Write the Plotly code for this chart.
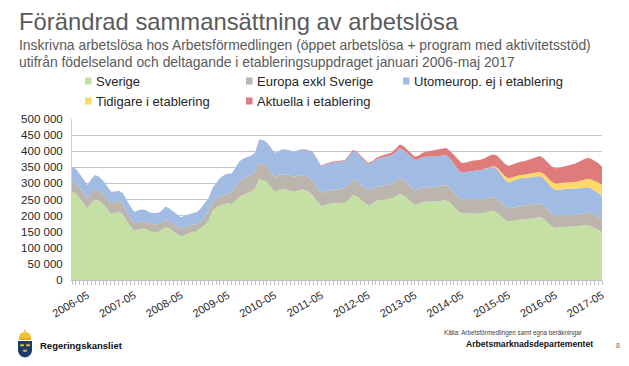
import pandas as pd
import plotly.graph_objects as go

# ---------------- data (thousands of persons, monthly 2006-01 .. 2017-05) ----------------
months = pd.date_range("2006-01-01", "2017-05-01", freq="MS")

sverige_k = [
    274, 268, 255, 240, 223, 240, 250, 245, 235, 222, 205, 208,   # 2006
    212, 205, 185, 168, 153, 157, 160, 158, 152, 150, 150, 156,   # 2007
    164, 160, 153, 143, 135, 140, 145, 150, 152, 160, 171, 184,   # 2008
    217, 225, 232, 236, 238, 236, 248, 259, 265, 271, 276, 285,   # 2009
    313, 310, 305, 290, 274, 278, 282, 281, 276, 274, 278, 281,   # 2010
    279, 272, 259, 245, 230, 233, 237, 238, 238, 239, 240, 250,   # 2011
    264, 260, 250, 240, 231, 236, 245, 248, 250, 251, 254, 260,   # 2012
    267, 263, 255, 243, 233, 237, 242, 243, 243, 243, 244, 247,   # 2013
    248, 240, 228, 214, 207, 206, 207, 206, 206, 207, 210, 213,   # 2014
    215, 210, 200, 188, 181, 184, 187, 188, 188, 190, 192, 194,   # 2015
    195, 190, 180, 168, 162, 162, 164, 165, 166, 166, 167, 168,   # 2016
    170, 168, 163, 156, 150,                                      # 2017
]
europa_k = [
    31, 31, 31, 31, 31, 30, 30, 31, 32, 32, 33, 34,
    34, 32, 29, 26, 23, 22, 21, 22, 23, 23, 23, 22,
    22, 22, 23, 24, 25, 24, 23, 22, 21, 20, 24, 28,
    27, 26, 27, 29, 31, 38, 44, 49, 50, 50, 50, 51,
    51, 49, 47, 47, 47, 46, 46, 46, 47, 47, 46, 45,
    44, 45, 47, 44, 40, 42, 41, 42, 43, 44, 45, 46,
    47, 47, 48, 48, 48, 46, 44, 44, 44, 44, 44, 46,
    49, 48, 47, 46, 46, 45, 45, 45, 45, 46, 47, 47,
    47, 46, 45, 44, 43, 44, 44, 44, 44, 43, 43, 43,
    42, 42, 42, 42, 42, 41, 40, 40, 41, 42, 42, 43,
    43, 42, 40, 39, 38, 37, 36, 35, 34, 35, 37, 38,
    39, 40, 40, 40, 39,
]
utomeurop_k = [
    47, 46, 44, 42, 41, 44, 46, 45, 41, 38, 36, 33,
    31, 33, 35, 36, 36, 38, 39, 37, 35, 35, 35, 37,
    42, 40, 38, 36, 35, 36, 36, 36, 38, 41, 41, 42,
    40, 52, 58, 60, 62, 57, 58, 61, 62, 62, 61, 60,
    73, 75, 76, 75, 74, 76, 78, 78, 78, 78, 79, 80,
    81, 84, 88, 86, 83, 84, 85, 85, 85, 85, 85, 87,
    89, 88, 86, 83, 81, 82, 85, 87, 88, 89, 90, 91,
    93, 93, 93, 94, 94, 94, 95, 95, 95, 94, 93, 93,
    93, 91, 89, 86, 83, 85, 88, 90, 91, 92, 93, 94,
    95, 93, 88, 83, 80, 83, 86, 88, 88, 87, 87, 86,
    85, 84, 82, 81, 80, 81, 82, 83, 83, 82, 81, 80,
    79, 78, 77, 75, 72,
]
tidigare_k = [
    0, 0, 0, 0, 0, 0, 0, 0, 0, 0, 0, 0,
    0, 0, 0, 0, 0, 0, 0, 0, 0, 0, 0, 0,
    0, 0, 0, 0, 0, 0, 0, 0, 0, 0, 0, 0,
    0, 0, 0, 0, 0, 0, 0, 0, 0, 0, 0, 0,
    0, 0, 0, 0, 0, 0, 0, 0, 0, 0, 0, 0,
    0, 0, 0, 0, 0, 0, 0, 0, 0, 0, 0, 0,
    0, 0, 0, 0, 0, 0, 0, 0, 0, 0, 0, 0,
    0, 0, 0, 0, 0, 0, 0, 0, 0, 0, 0, 0,
    0, 0, 0, 0, 0, 0, 0, 0, 0, 0, 0, 1,
    2, 5, 8, 11, 13, 12, 11, 10, 10, 10, 10, 11,
    13, 14, 16, 18, 20, 20, 20, 20, 20, 21, 22, 24,
    26, 27, 29, 32, 34,
]
aktuella_k = [
    0, 0, 0, 0, 0, 0, 0, 0, 0, 0, 0, 0,
    0, 0, 0, 0, 0, 0, 0, 0, 0, 0, 0, 0,
    0, 0, 0, 0, 0, 0, 0, 0, 0, 0, 0, 0,
    0, 0, 0, 0, 0, 0, 0, 0, 0, 0, 0, 0,
    0, 0, 0, 0, 0, 0, 0, 0, 0, 0, 0, 0.5,
    1, 1, 1.5, 2, 2, 2, 2.5, 3, 3, 3, 3, 3.5,
    4, 4, 4, 4, 4, 4, 4.5, 5, 6, 7, 8, 10,
    12, 12, 11, 10, 10, 11, 13, 16, 18, 19, 20, 21,
    22, 24, 27, 30, 30, 30, 30, 31, 31, 32, 33, 35,
    36, 37, 37, 38, 38, 39, 40, 41, 42, 44, 45, 47,
    49, 48, 47, 47, 47, 48, 50, 52, 54, 57, 60, 62,
    65, 64, 62, 60, 57,
]

series_names = ["Sverige", "Europa exkl Sverige", "Utomeurop. ej i etablering",
                "Tidigare i etablering", "Aktuella i etablering"]
series_values = [sverige_k, europa_k, utomeurop_k, tidigare_k, aktuella_k]
series_colors = ["#c5e0a5", "#bcb5ad", "#a2bbe2", "#ffd966", "#e07b7b"]

x_tick_labels = ["2006-05", "2007-05", "2008-05", "2009-05", "2010-05", "2011-05",
                 "2012-05", "2013-05", "2014-05", "2015-05", "2016-05", "2017-05"]
y_tick_values = [0, 50000, 100000, 150000, 200000, 250000, 300000, 350000, 400000, 450000, 500000]
y_tick_labels = ["0", "50 000", "100 000", "150 000", "200 000", "250 000", "300 000",
                 "350 000", "400 000", "450 000", "500 000"]

# ---------------- geometry ----------------
# The page body has an 8px default margin, so the figure is drawn 8px smaller
# and all positions are given in window pixels of the target picture.
OFF = 8
W, H = 629 - OFF, 366 - OFF
PLOT_L, PLOT_R, PLOT_T, PLOT_B = 72, 602, 119, 280      # target window pixels
L, R = PLOT_L - OFF, W - (PLOT_R - OFF)
T, B = PLOT_T - OFF, H - (PLOT_B - OFF)
PW, PH = PLOT_R - PLOT_L, PLOT_B - PLOT_T


def px(x):
    return (x - PLOT_L) / PW


def py(y):
    return (PLOT_B - y) / PH


FONT = "Liberation Sans, Arial, sans-serif"

fig = go.Figure()
for name, vals, col in zip(series_names, series_values, series_colors):
    fig.add_trace(go.Scatter(
        x=months, y=[v * 1000 for v in vals], name=name, mode="lines",
        stackgroup="one", line=dict(width=0, color=col), fillcolor=col,
        showlegend=False, hoverinfo="skip",
    ))

annotations = []
shapes = []

# title & subtitle
annotations.append(dict(text="Förändrad sammansättning av arbetslösa", x=px(17), y=py(21),
                        xref="paper", yref="paper", xanchor="left", yanchor="middle",
                        showarrow=False, font=dict(family=FONT, size=23.8, color="#5a5a5a")))
annotations.append(dict(text="Inskrivna arbetslösa hos Arbetsförmedlingen (öppet arbetslösa + program med aktivitetsstöd)",
                        x=px(17), y=py(45), xref="paper", yref="paper", xanchor="left", yanchor="middle",
                        showarrow=False, font=dict(family=FONT, size=13.9, color="#5a5a5a")))
annotations.append(dict(text="utifrån födelseland och deltagande i etableringsuppdraget januari 2006-maj 2017",
                        x=px(17), y=py(62), xref="paper", yref="paper", xanchor="left", yanchor="middle",
                        showarrow=False, font=dict(family=FONT, size=13.9, color="#5a5a5a")))

# legend (squares + labels)
legend_pos = [(85, 81), (246, 81), (403, 81), (85, 101), (246, 101)]
for (lx, ly), name, col in zip(legend_pos, series_names, series_colors):
    shapes.append(dict(type="rect", xref="paper", yref="paper",
                       x0=px(lx), x1=px(lx + 6.5), y0=py(ly + 3.5), y1=py(ly - 3.5),
                       fillcolor=col, line=dict(width=0)))
    annotations.append(dict(text=name, x=px(lx + 8.5), y=py(ly), xref="paper", yref="paper",
                            xanchor="left", yanchor="middle", showarrow=False,
                            font=dict(family=FONT, size=13, color="#262626")))

# footer texts
annotations.append(dict(text="Regeringskansliet", x=px(38), y=py(345), xref="paper", yref="paper",
                        xanchor="left", yanchor="middle", showarrow=False,
                        font=dict(family=FONT, size=9.5, color="#111111", weight="bold")))
annotations.append(dict(text="Källa: Arbetsförmedlingen samt egna beräkningar", x=px(584), y=py(333),
                        xref="paper", yref="paper", xanchor="right", yanchor="middle", showarrow=False,
                        font=dict(family=FONT, size=6.3, color="#404040")))
annotations.append(dict(text="Arbetsmarknadsdepartementet", x=px(595), y=py(344),
                        xref="paper", yref="paper", xanchor="right", yanchor="middle", showarrow=False,
                        font=dict(family=FONT, size=8.6, color="#111111", weight="bold")))
annotations.append(dict(text="8", x=px(618), y=py(345), xref="paper", yref="paper",
                        xanchor="center", yanchor="middle", showarrow=False,
                        font=dict(family=FONT, size=7, color="#666666")))


def path(points, close=True):
    s = "M " + " L ".join(f"{px(a):.5f},{py(b):.5f}" for a, b in points)
    return s + (" Z" if close else "")


# logo: crown + shield with three crowns
gold = "#f2c230"
navy = "#1d3a6a"
shapes.append(dict(type="path", xref="paper", yref="paper", fillcolor=gold, line=dict(width=0),
                   path=path([(19, 340), (19, 336.5), (20, 334), (22, 332.5), (25, 332),
                              (28, 332.5), (30, 334), (31, 336.5), (31, 340)])))
shapes.append(dict(type="path", xref="paper", yref="paper", fillcolor=gold, line=dict(width=0),
                   path=path([(24.3, 332), (24.3, 329.5), (25.7, 329.5), (25.7, 332)])))
shapes.append(dict(type="path", xref="paper", yref="paper", fillcolor="#d9a21e", line=dict(width=0),
                   path=path([(19, 338.5), (31, 338.5), (31, 340), (19, 340)])))
shapes.append(dict(type="path", xref="paper", yref="paper", fillcolor=navy, line=dict(width=0),
                   path=path([(18, 341), (32, 341), (32, 351), (31, 354), (28.5, 356.5), (25, 357.5),
                              (21.5, 356.5), (19, 354), (18, 351)])))
for cx, cy in [(22, 345), (28, 345), (25, 350.5)]:
    shapes.append(dict(type="path", xref="paper", yref="paper", fillcolor=gold, line=dict(width=0),
                       path=path([(cx - 1.8, cy + 1.2), (cx - 1.8, cy - 1.2), (cx - 0.9, cy - 0.3),
                                  (cx, cy - 1.4), (cx + 0.9, cy - 0.3), (cx + 1.8, cy - 1.2),
                                  (cx + 1.8, cy + 1.2)])))

fig.update_layout(
    width=W, height=H,
    margin=dict(l=L, r=R, t=T, b=B, autoexpand=False),
    plot_bgcolor="white", paper_bgcolor="white",
    showlegend=False,
    font=dict(family=FONT, color="#262626"),
    annotations=annotations,
    shapes=shapes,
    xaxis=dict(
        type="date",
        range=[months[0], months[-1]],
        tickmode="array",
        tickvals=pd.to_datetime(x_tick_labels),
        ticktext=x_tick_labels,
        tickangle=-30,
        tickfont=dict(family=FONT, size=11, color="#262626"),
        ticks="outside", ticklen=4, tickcolor="#bfbfbf",
        showline=True, linecolor="#bfbfbf", linewidth=1,
        showgrid=False, zeroline=False,
        minor=dict(ticks="outside", ticklen=4, tickcolor="#bfbfbf", dtick="M1",
                   tick0="2006-01-01", showgrid=False),
    ),
    yaxis=dict(
        range=[0, 500000],
        tickmode="array",
        tickvals=y_tick_values,
        ticktext=y_tick_labels,
        tickfont=dict(family=FONT, size=11.5, color="#262626"),
        showgrid=True, gridcolor="#c6c6c6", gridwidth=1,
        showline=True, linecolor="#d0d0d0", linewidth=1,
        zeroline=False, ticks="", ticklabelstandoff=6,
    ),
)

fig.write_html("out.html")
